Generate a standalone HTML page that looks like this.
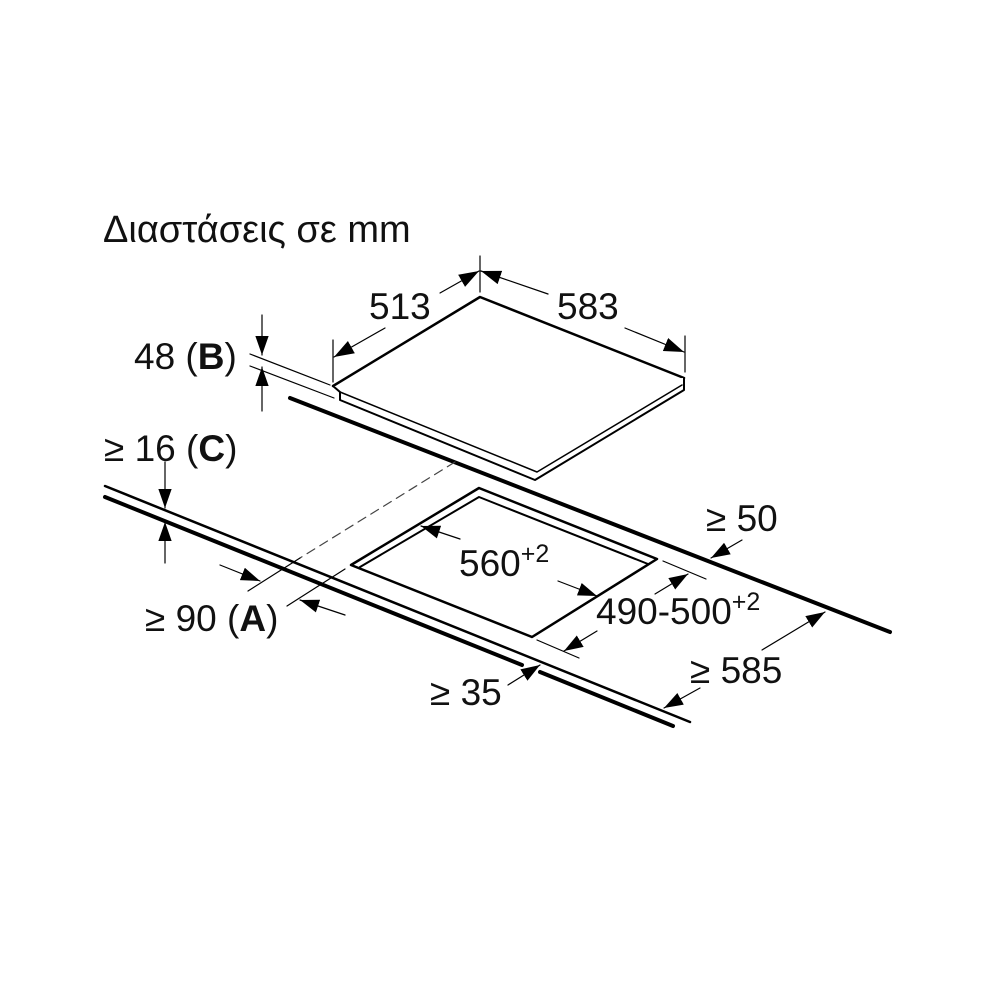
<!DOCTYPE html>
<html><head><meta charset="utf-8"><style>
html,body{margin:0;padding:0;background:#fff;}
svg{display:block;}
text{font-family:"Liberation Sans",sans-serif;fill:#111;}
</style></head><body>
<svg width="1000" height="1000" viewBox="0 0 1000 1000" xmlns="http://www.w3.org/2000/svg">
<defs>
<marker id="a" viewBox="0 0 10 10" refX="10" refY="5" markerWidth="19" markerHeight="19" markerUnits="userSpaceOnUse" orient="auto"><path d="M0,1.5 L10,5 L0,8.5 z" fill="#000"/></marker>
<marker id="b" viewBox="0 0 10 10" refX="10" refY="5" markerWidth="20" markerHeight="20" markerUnits="userSpaceOnUse" orient="auto"><path d="M0,1.5 L10,5 L0,8.5 z" fill="#000"/></marker>
</defs>
<g stroke="#000" fill="none" stroke-linecap="round" stroke-linejoin="round">
<line x1="290" y1="398" x2="890" y2="632" stroke-width="4"/>
<path d="M333,386 L480,297 L684,378 L537,468 Z" fill="#fff" stroke-width="2.5"/>
<path d="M333,386 L340,392 L340,400 L535,480 L684,390 L684,378" fill="#fff" stroke-width="2"/>
<path d="M340,392 L537,472 L682,385" stroke-width="1.5"/>
<line x1="455" y1="462" x2="300" y2="558" stroke-width="1.2" stroke-dasharray="9,6" stroke="#444"/>
<line x1="300" y1="558" x2="248" y2="591" stroke-width="1.2"/>
<line x1="287" y1="606" x2="345" y2="569" stroke-width="1.2"/>
<line x1="105" y1="486" x2="690" y2="722" stroke-width="2.5"/>
<line x1="105" y1="497" x2="522" y2="665" stroke-width="4"/>
<line x1="540" y1="672" x2="673" y2="726" stroke-width="4"/>
<path d="M351,565 L479,488 L657,559 L532,637 Z" fill="#fff" stroke-width="2.5"/>
<path d="M360,567 L479,497 L648,564" stroke-width="2"/>
<line x1="250" y1="354" x2="330" y2="385" stroke-width="1.2"/>
<line x1="250" y1="366" x2="334" y2="398" stroke-width="1.2"/>
<line x1="333" y1="340" x2="333" y2="382" stroke-width="1.2"/>
<line x1="480" y1="256" x2="480" y2="292" stroke-width="1.2"/>
<line x1="685" y1="336" x2="685" y2="372" stroke-width="1.2"/>
<line x1="663" y1="561" x2="706" y2="579" stroke-width="1.2"/>
<line x1="537" y1="640" x2="579" y2="658" stroke-width="1.2"/>
<g stroke-width="1.2">
<line x1="262" y1="315" x2="262" y2="355" marker-end="url(#a)"/>
<line x1="262" y1="411" x2="262" y2="367" marker-end="url(#a)"/>
<line x1="165" y1="462" x2="165" y2="508" marker-end="url(#a)"/>
<line x1="165" y1="563" x2="165" y2="522" marker-end="url(#a)"/>
<line x1="385" y1="328" x2="334" y2="357" marker-end="url(#b)"/>
<line x1="440" y1="293" x2="479" y2="271" marker-end="url(#b)"/>
<line x1="548" y1="294" x2="481" y2="271" marker-end="url(#b)"/>
<line x1="625" y1="328" x2="684" y2="352" marker-end="url(#b)"/>
<line x1="220" y1="565" x2="260" y2="581" marker-end="url(#a)"/>
<line x1="345" y1="615" x2="300" y2="600" marker-end="url(#a)"/>
<line x1="460" y1="539" x2="421" y2="526" marker-end="url(#a)"/>
<line x1="558" y1="581" x2="597" y2="596" marker-end="url(#a)"/>
<line x1="655" y1="594" x2="688" y2="574" marker-end="url(#a)"/>
<line x1="597" y1="631" x2="564" y2="651" marker-end="url(#a)"/>
<line x1="742" y1="540" x2="711" y2="558" marker-end="url(#a)"/>
<line x1="762" y1="650" x2="825" y2="612" marker-end="url(#a)"/>
<line x1="700" y1="688" x2="664" y2="708" marker-end="url(#a)"/>
<line x1="508" y1="685" x2="540" y2="665" marker-end="url(#a)"/>
</g>
</g>
<g font-size="37">
<text x="103" y="242" font-size="38">Διαστάσεις σε mm</text>
<text x="369" y="319">513</text>
<text x="557" y="319">583</text>
<text x="134" y="369">48 (<tspan font-weight="bold">B</tspan>)</text>
<text x="104" y="461">≥ 16 (<tspan font-weight="bold">C</tspan>)</text>
<text x="145" y="631">≥ 90 (<tspan font-weight="bold">A</tspan>)</text>
<text x="459" y="576">560<tspan font-size="25" dy="-14">+2</tspan></text>
<text x="596" y="624">490-500<tspan font-size="25" dy="-14">+2</tspan></text>
<text x="706" y="531">≥ 50</text>
<text x="690" y="683">≥ 585</text>
<text x="430" y="705">≥ 35</text>
</g>
</svg>
</body></html>
